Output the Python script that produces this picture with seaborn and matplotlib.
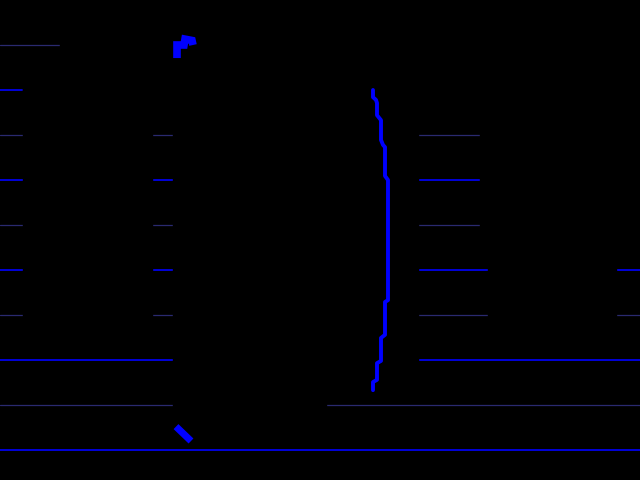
"""
Recria o gráfico: fundo preto, grade azul, curva em degraus azul
"""

import matplotlib
matplotlib.use("Agg")
import matplotlib.pyplot as plt
from matplotlib.patches import Rectangle
import seaborn as sns

# Curva principal (x em pixels, y em unidades da grade)
curve_x = [373, 373, 376, 377, 377, 381, 381, 383, 385, 385, 388, 388,
           385, 385, 381, 381, 377, 377, 373, 373]
curve_y = [8.0, 7.84, 7.78, 7.71, 7.44, 7.33, 6.89, 6.78, 6.73, 6.09, 6.0, 3.33,
           3.29, 2.56, 2.49, 1.98, 1.93, 1.56, 1.51, 1.33]

# Pequenos traços no topo e na base
top_x = [177, 177, 184, 185, 192, 193]
top_y = [8.71, 9.0, 9.0, 9.13, 9.1, 9.0]
bottom_x = [176, 191]
bottom_y = [0.52, 0.2]

# Áreas pretas que escondem partes da grade
box_x0 = [23, 60, 23, 173, 173, 480, 488]
box_x1 = [152, 640, 640, 418, 326, 640, 616]
box_y0 = [2.3, 8.6, 7.5, 1.5, 0.5, 4.5, 2.5]
box_y1 = [8.5, 10.0, 8.6, 8.6, 1.5, 7.5, 4.5]

sns.set_style("dark")

fig = plt.figure(figsize=(6.4, 4.8), dpi=100, facecolor="black")
ax = fig.add_axes([0, 0, 1, 1])
ax.set_facecolor("black")

for x0, x1, y0, y1 in zip(box_x0, box_x1, box_y0, box_y1):
    ax.add_patch(Rectangle((x0, y0), x1 - x0, y1 - y0, color="black", zorder=1))

sns.lineplot(x=curve_x, y=curve_y, sort=False, estimator=None, color="blue",
             linewidth=2.8, ax=ax, zorder=3)
sns.lineplot(x=top_x, y=top_y, sort=False, estimator=None, color="blue",
             linewidth=5.5, ax=ax, zorder=3, solid_capstyle="butt",
             solid_joinstyle="miter")
sns.lineplot(x=bottom_x, y=bottom_y, sort=False, estimator=None, color="blue",
             linewidth=5.0, ax=ax, zorder=3, solid_capstyle="butt")

ax.set_xlim(0, 640)
ax.set_ylim(-30 / 45, 10)
ax.set_yticks([0, 2, 4, 6, 8])
ax.set_yticks([1, 3, 5, 7, 9], minor=True)
ax.set_xticks([])
ax.set_axisbelow(True)
ax.grid(which="major", axis="y", color="blue", linewidth=1.2)
ax.grid(which="minor", axis="y", color="#2a2a70", linewidth=0.9)
ax.tick_params(which="both", length=0, labelleft=False, labelbottom=False)
for s in ax.spines.values():
    s.set_visible(False)
ax.set_xlabel("")
ax.set_ylabel("")

plt.savefig("out.png", dpi=100, facecolor="black")
plt.close()
